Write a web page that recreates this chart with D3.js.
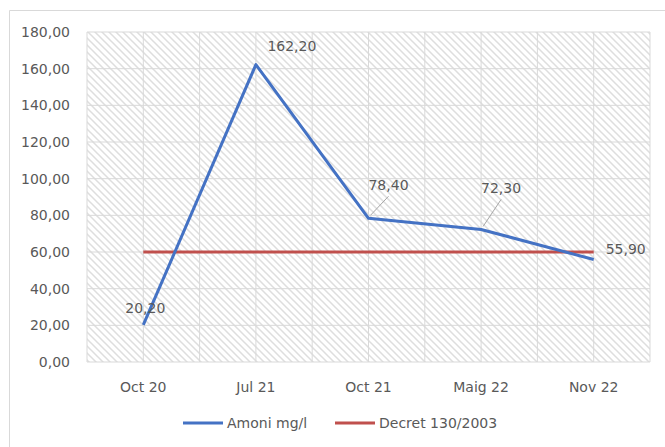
<!DOCTYPE html>
<html><head><meta charset="utf-8">
<script src="https://cdn.jsdelivr.net/npm/d3@7/dist/d3.min.js"></script>
<style>
html,body{margin:0;padding:0;background:#fff;}
svg{display:block;font-family:"DejaVu Sans",sans-serif;}
</style></head>
<body>
<svg id="chart" width="665" height="447"></svg>
<script>
const categories = ["Oct 20", "Jul 21", "Oct 21", "Maig 22", "Nov 22"];
const amoni = [20.2, 162.2, 78.4, 72.3, 55.9];
const decret = [60, 60, 60, 60, 60];
const yTicks = [0, 20, 40, 60, 80, 100, 120, 140, 160, 180];
const seriesNames = ["Amoni mg/l", "Decret 130/2003"];
// label offsets (layout only)
const labelOffsets = [[2,-17],[36,-19],[20,-33],[20,-41],[32,-11]];
const leaders = [false,false,true,true,false];

const colors = {blue:"#4472C4", red:"#C0504D", text:"#595959", grid:"#d9d9d9"};
const svg = d3.select("#chart");
const L = 87, R = 650, T = 32, B = 362;
const fmt = d3.formatLocale({decimal:",", thousands:".", grouping:[3], currency:["",""]}).format(".2f");

const x = d3.scaleBand().domain(categories).range([L, R]).padding(0);
const cx = c => x(c) + x.bandwidth()/2;
const y = d3.scaleLinear().domain([0, 180]).range([B, T]);

// outer border
svg.append("path").attr("d", `M9.5,447 V10.5 H665`).attr("fill","none").attr("stroke","#d9d9d9").attr("stroke-width",1);

// hatch pattern
const defs = svg.append("defs");
const pat = defs.append("pattern").attr("id","hatch").attr("patternUnits","userSpaceOnUse")
  .attr("width",7).attr("height",7);
pat.append("rect").attr("width",7).attr("height",7).attr("fill","#fff");
pat.append("path").attr("d","M-1,-1 L8,8 M-1,6 L1,8 M6,-1 L8,1").attr("stroke","#dedede").attr("stroke-width",1.5);
svg.append("rect").attr("x",L).attr("y",T).attr("width",R-L).attr("height",B-T).attr("fill","url(#hatch)");

// gridlines
const g = svg.append("g");
g.selectAll(".hg").data(yTicks).join("line")
  .attr("x1",L).attr("x2",R).attr("y1",d=>y(d)).attr("y2",d=>y(d))
  .attr("stroke",colors.grid).attr("stroke-width",1);
const vgrid = [];
categories.forEach(c => { vgrid.push(x(c)); vgrid.push(cx(c)); });
vgrid.push(R);
g.selectAll(".vg").data(vgrid).join("line")
  .attr("x1",d=>d).attr("x2",d=>d).attr("y1",T).attr("y2",B)
  .attr("stroke",colors.grid).attr("stroke-width",1);

// y axis labels
svg.append("g").selectAll("text").data(yTicks).join("text")
  .attr("x",70).attr("y",d=>y(d)).attr("text-anchor","end").attr("dominant-baseline","central")
  .attr("font-size",14).attr("fill",colors.text).text(d=>fmt(d));

// x axis labels
svg.append("g").selectAll("text").data(categories).join("text")
  .attr("x",d=>cx(d)).attr("y",387).attr("text-anchor","middle").attr("dominant-baseline","central")
  .attr("font-size",14).attr("fill",colors.text).text(d=>d);

const line = d3.line().x((d,i)=>cx(categories[i])).y(d=>y(d));
svg.append("path").datum(decret).attr("d",line).attr("fill","none").attr("stroke",colors.red).attr("stroke-width",3);
svg.append("path").datum(amoni).attr("d",line).attr("fill","none").attr("stroke",colors.blue).attr("stroke-width",3).attr("stroke-linejoin","round");

// leader lines
amoni.forEach((v,i)=>{
  if(!leaders[i]) return;
  const px = cx(categories[i]), py = y(v);
  const [dx,dy] = labelOffsets[i];
  svg.append("line").attr("x1",px+2).attr("y1",py-3).attr("x2",px+dx).attr("y2",py+dy+11)
    .attr("stroke","#a6a6a6").attr("stroke-width",1);
});
// data labels
svg.append("g").selectAll("text").data(amoni).join("text")
  .attr("x",(d,i)=>cx(categories[i])+labelOffsets[i][0])
  .attr("y",(d,i)=>y(d)+labelOffsets[i][1])
  .attr("text-anchor","middle").attr("dominant-baseline","central")
  .attr("font-size",14).attr("fill",colors.text).text(d=>fmt(d));

// legend
const leg = svg.append("g");
const legItems = [{name:seriesNames[0], color:colors.blue, x:183},{name:seriesNames[1], color:colors.red, x:335}];
legItems.forEach(it=>{
  leg.append("line").attr("x1",it.x).attr("x2",it.x+40).attr("y1",423).attr("y2",423).attr("stroke",it.color).attr("stroke-width",3);
  leg.append("text").attr("x",it.x+44).attr("y",423).attr("dominant-baseline","central")
    .attr("font-size",14).attr("fill",colors.text).text(it.name);
});
</script>
</body></html>
